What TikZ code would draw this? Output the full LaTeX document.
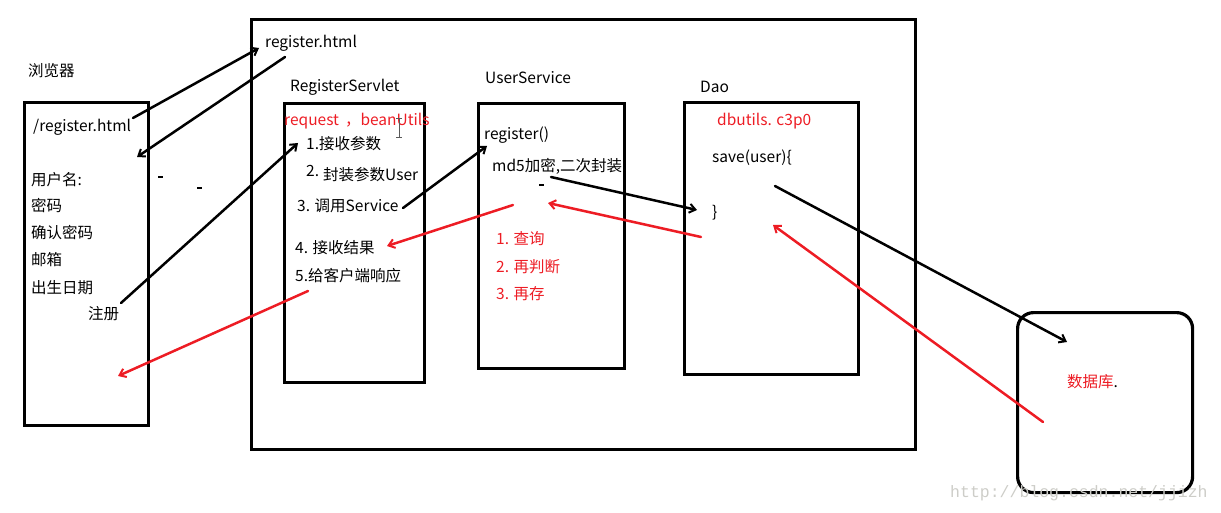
\documentclass[tikz,border=0pt]{standalone}
\usepackage{fontspec}
\setmainfont{Noto Sans CJK SC}
\newfontfamily\wmfont{Liberation Mono}
\usetikzlibrary{arrows.meta}
\definecolor{pred}{RGB}{237,28,36}
\definecolor{wm}{RGB}{205,205,200}
\begin{document}
\begin{tikzpicture}[x=1pt,y=-1pt,
  box/.style={draw,line width=3.2pt,anchor=north west,inner sep=0pt},
  lbl/.style={anchor=west,inner sep=0pt,font=\fontsize{15.5}{17}\selectfont},
  rlbl/.style={lbl,text=pred},
  blk/.style={line width=2.5pt,line cap=round,-{Straight Barb[length=6pt,width=9pt,line width=2pt]}},
  rar/.style={pred,line width=2.5pt,line cap=round,-{Straight Barb[length=6pt,width=9pt,line width=2pt]}},
  dashmark/.style={line width=2.5pt}
]
\useasboundingbox (0,0) rectangle (1221,513);
% boxes
\node[box,minimum width=124pt,minimum height=323pt] (browser) at (23,101) {};
\node[box,minimum width=664pt,minimum height=430pt] (server) at (250,18) {};
\node[box,minimum width=140pt,minimum height=279pt] (servlet) at (283,102) {};
\node[box,minimum width=146pt,minimum height=265pt] (service) at (477,102) {};
\node[box,minimum width=174pt,minimum height=272pt] (dao) at (683,101) {};
\node[box,rounded corners=16pt,minimum width=175pt,minimum height=180pt] (db) at (1016,311) {};
% browser texts
\node[lbl] (tbrowser) at (28,71) {浏览器};
\node[lbl] (treg) at (33,127) {/register.html};
\node[lbl] (tuser) at (31,180) {用户名:};
\node[lbl] (tpwd) at (31,206) {密码};
\node[lbl] (tpwd2) at (31,233) {确认密码};
\node[lbl] (tmail) at (31,260) {邮箱};
\node[lbl] (tbirth) at (31,288) {出生日期};
\node[lbl] (tsubmit) at (88,314) {注册};
% server texts
\node[lbl] (treghtml) at (265,43) {register.html};
\node[lbl] (tservlet) at (290,87) {RegisterServlet};
\node[rlbl] (treq) at (284,121) {request \,，beanUtils};
\node[lbl] (ts1) at (306,144) {1.接收参数};
\node[lbl] (ts2a) at (306,171) {2.};
\node[lbl] (ts2) at (323,175) {封装参数User};
\node[lbl] (ts3) at (297,206) {3. 调用Service};
\node[lbl] (ts4) at (295,248) {4. 接收结果};
\node[lbl] (ts5) at (295,276) {5.给客户端响应};
\node[lbl] (tservice) at (485,78) {UserService};
\node[lbl] (tregister) at (484,135) {register()};
\node[lbl] (tmd5) at (492,166) {md5加密,二次封装};
\node[rlbl] (tq1) at (496,239) {1. 查询};
\node[rlbl] (tq2) at (496,267) {2. 再判断};
\node[rlbl] (tq3) at (496,294) {3. 再存};
\node[lbl] (tdao) at (700,87) {Dao};
\node[rlbl] (tdbu) at (717,121) {dbutils. c3p0};
\node[lbl] (tsave) at (712,158) {save(user)\{};
\node[lbl] (tclose) at (712,213) {\}};
\node[rlbl] (tdb) at (1067,382) {数据库\textcolor{black}{.}};
\node[anchor=west,inner sep=0pt,text=wm,font=\wmfont\fontsize{16.5}{18}\selectfont] (wmark) at (950,493) {http://blog.csdn.net/jjizh};
% cursor glyph
\draw[line width=1pt,gray!70!black] (399,119) -- (399,138) (396,119) -- (402,119) (396,138) -- (402,138);
% small marks
\draw[dashmark] (158,177) -- (163,177);
\draw[dashmark] (197,188) -- (202,188);
\draw[dashmark] (539,185) -- (544,185);
\draw[dashmark] (311,82) -- (311,84);
% anchor coordinates for connectors
\coordinate (a1s) at (133,118);
\coordinate (a1e) at (259,48);
\coordinate (a2s) at (285,57);
\coordinate (a2e) at (137,157);
\coordinate (a3s) at (121,303);
\coordinate (a3e) at (298,143);
\coordinate (a4s) at (403,208);
\coordinate (a4e) at (487,146);
\coordinate (a5s) at (551,177);
\coordinate (a5e) at (697,210);
\coordinate (a6s) at (775,186);
\coordinate (a6e) at (1067,342);
\coordinate (r1s) at (1043,422);
\coordinate (r1e) at (773,225);
\coordinate (r2s) at (701,237);
\coordinate (r2e) at (548,203);
\coordinate (r3s) at (513,205);
\coordinate (r3e) at (387,246);
\coordinate (r4s) at (308,291);
\coordinate (r4e) at (118,376);
% black connectors
\draw[blk] (a1s) -- (a1e);
\draw[blk] (a2s) -- (a2e);
\draw[blk] (a3s) -- (a3e);
\draw[blk] (a4s) -- (a4e);
\draw[blk] (a5s) -- (a5e);
\draw[blk] (a6s) -- (a6e);
% red connectors
\draw[rar] (r1s) -- (r1e);
\draw[rar] (r2s) -- (r2e);
\draw[rar] (r3s) -- (r3e);
\draw[rar] (r4s) -- (r4e);
\end{tikzpicture}
\end{document}
